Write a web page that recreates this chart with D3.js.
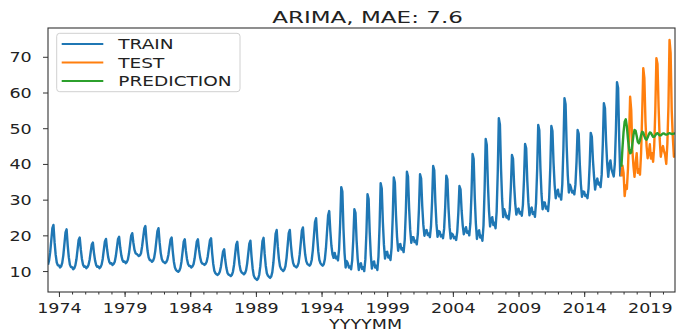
<!DOCTYPE html>
<html><head><meta charset="utf-8">
<script src="https://cdn.jsdelivr.net/npm/d3@7"></script>
<style>body{margin:0;background:#fff} svg{display:block}</style>
</head><body><svg id="c" width="677" height="331"></svg>
<script>
// ---- data (monthly) ----
const trainStart = [1973, 3];
const trainValues = [
  11.8,13.0,15.3,18.6,22.0,22.9,18.1,14.6,12.4,11.6,
  11.6,11.0,11.3,12.3,14.4,17.6,20.8,21.7,17.2,13.9,11.8,11.1,
  11.1,10.5,10.8,11.6,13.3,16.0,18.7,19.4,16.0,13.4,11.8,11.2,
  11.3,10.8,11.1,11.7,13.1,15.3,17.4,18.0,15.1,13.0,11.7,11.2,
  11.3,10.8,11.1,11.8,13.4,15.9,18.3,19.0,16.1,13.9,12.6,12.1,
  12.2,11.7,12.0,12.6,14.2,16.6,19.0,19.6,16.6,14.4,13.1,12.6,
  12.7,12.2,12.5,13.2,14.9,17.4,19.9,20.6,18.0,16.0,15.0,14.8,
  14.5,14.2,14.4,15.0,16.9,19.4,21.9,22.6,18.6,15.6,13.8,13.1,
  13.0,12.6,12.9,13.7,15.6,18.4,21.2,22.0,18.1,15.1,13.4,12.7,
  12.5,12.2,12.5,13.1,14.5,16.7,18.8,19.4,15.6,12.7,11.0,10.3,
  10.0,9.8,10.1,10.9,12.7,15.4,18.2,18.9,15.7,13.4,12.0,11.4,
  11.4,11.0,11.3,11.9,13.5,15.9,18.3,18.9,16.0,13.9,12.6,12.1,
  12.0,11.7,12.0,12.6,14.1,16.4,18.6,19.2,15.1,12.0,10.1,9.4,
  9.1,8.9,9.2,9.8,11.2,13.4,15.5,16.1,13.1,10.9,9.5,9.0,
  8.9,8.6,8.9,9.8,11.7,14.6,17.4,18.2,14.6,11.8,10.2,9.6,
  9.4,9.1,9.4,10.2,12.1,14.9,17.7,18.5,14.1,10.8,8.8,8.1,
  7.8,7.5,7.9,8.9,11.3,14.8,18.4,19.3,14.8,11.5,9.4,8.7,
  8.4,8.1,8.5,9.7,12.4,16.4,20.4,21.5,16.9,13.5,11.4,10.6,
  10.3,10.0,10.4,11.4,13.7,17.1,20.6,21.5,17.3,14.2,12.3,11.5,
  11.3,11.0,11.4,12.3,14.6,17.9,21.3,22.2,17.9,14.7,12.8,12.0,
  11.8,11.5,11.9,13.1,15.8,19.7,23.7,24.8,19.5,15.5,13.1,12.2,
  11.8,11.5,11.9,13.3,16.4,21.0,25.6,26.8,21.3,17.1,14.7,13.7,
  15.1,13.6,14.0,13.0,16.1,23.3,33.5,32.3,22.0,15.1,11.0,12.8,
  12.2,11.0,11.3,10.5,13.0,18.9,27.3,26.3,18.7,13.5,10.3,11.7,
  12.2,10.6,11.1,10.0,13.2,20.8,31.5,30.2,20.9,14.5,10.7,12.4,
  12.7,11.0,11.5,10.3,14.0,22.5,34.6,33.1,23.9,17.4,13.5,15.3,
  15.4,13.8,14.3,13.1,16.6,24.7,36.2,34.8,25.8,19.5,15.7,17.4,
  17.6,16.0,16.4,15.3,18.7,26.6,37.8,36.5,27.7,21.6,17.9,19.5,
  19.5,18.1,18.5,17.5,20.4,27.3,37.1,35.9,28.3,23.0,19.9,21.3,
  21.5,20.1,20.5,19.5,22.5,29.5,39.4,38.2,29.3,23.2,19.6,21.2,
  21.0,19.7,20.1,19.2,21.8,28.0,36.7,35.7,27.7,22.3,19.1,20.5,
  20.2,19.2,19.5,18.7,21.0,26.3,33.8,32.9,26.9,22.8,20.3,21.4,
  22.3,20.7,21.1,20.0,23.4,31.4,42.8,41.4,30.7,23.4,19.0,20.9,
  21.4,19.4,19.9,18.5,22.8,32.8,47.0,45.3,34.5,27.0,22.5,24.5,
  25.1,22.9,23.5,22.0,26.6,37.4,52.8,51.0,38.7,30.2,25.1,27.3,
  26.3,25.0,25.4,24.5,27.2,33.5,42.5,41.4,34.0,28.9,25.8,27.2,
  27.5,26.1,26.5,25.5,28.5,35.6,45.6,44.4,35.4,29.3,25.6,27.2,
  27.8,26.0,26.5,25.2,29.1,38.1,50.9,49.4,38.9,31.6,27.3,29.2,
  29.2,27.5,28.0,26.8,30.4,38.7,50.6,49.2,40.3,34.1,30.4,32.1,
  32.8,30.9,31.4,30.0,34.3,44.2,58.4,56.7,45.0,36.9,32.0,34.2,
  33.3,32.0,32.4,31.5,34.2,40.5,49.5,48.4,40.0,34.2,30.8,32.3,
  32.2,31.0,31.3,30.4,33.1,39.6,48.7,47.6,41.1,36.5,32.8,35.0,
  35.9,34.2,34.7,33.5,37.0,45.3,57.0,55.6,46.5,40.2,36.4,40.0,
  41.0,38.5,37.5,36.5,40.0,49.5,62.9,61.3,47.0,36.5
];
const testStart = [2016, 11];
const testValues = [
  36.5,39.5,
  37.5,31.0,34.0,33.0,38.5,47.5,58.8,55.0,44.0,39.5,36.4,40.3,
  43.0,37.5,38.5,37.0,43.0,54.0,66.8,64.0,52.0,45.0,41.6,43.0,
  45.5,41.5,43.0,40.6,45.0,55.0,69.6,68.0,56.0,47.0,42.0,44.0,
  45.0,43.5,42.5,40.0,45.5,56.0,74.7,71.0,55.0,47.5,42.0,43.0
];
const predictionValues = [
  39.2,44.5,
  49.0,51.8,52.5,50.5,47.0,44.2,43.0,43.2,45.5,48.0,49.5,49.3,
  47.8,46.2,45.8,46.6,48.0,49.0,48.8,47.8,47.0,46.8,47.4,48.2,
  48.8,48.7,48.1,47.6,47.6,48.0,48.5,48.6,48.3,48.0,48.0,48.3,
  48.5,48.5,48.3,48.2,48.3,48.5,48.6,48.5,48.4,48.4,48.5,48.6
];
const seriesNames = ["TRAIN", "TEST", "PREDICTION"];
const seriesColors = ["#1f77b4", "#ff7f0e", "#2ca02c"];
const xMajorTicks = [1974, 1979, 1984, 1989, 1994, 1999, 2004, 2009, 2014, 2019];
const yTicks = [10, 20, 30, 40, 50, 60, 70];
const titleText = "ARIMA, MAE: 7.6";
const xLabelText = "YYYYMM";

// ---- build ----
function toSeries(start, vals) {
  return vals.map((v, i) => ({ t: start[0] + (start[1] - 1 + i) / 12, v }));
}
const train = toSeries(trainStart, trainValues);
const test = toSeries(testStart, testValues);
const pred = toSeries(testStart, predictionValues);
const all = [train, test, pred];

const L = 48, R = 675, T = 28, B = 292;
const FONT = "DejaVu Sans";
const TXT = "#222";

const x = d3.scaleLinear().domain([train[0].t, test[test.length - 1].t]).range([L, R]);
const vals = all.flat().map(d => d.v);
const [mn, mx] = d3.extent(vals);
const pad = (mx - mn) * 0.05;
const y = d3.scaleLinear().domain([mn - pad, mx + pad]).range([B, T]);

const svg = d3.select("#c");
svg.append("defs").append("clipPath").attr("id", "clip")
  .append("rect").attr("x", L).attr("y", T).attr("width", R - L).attr("height", B - T);

const line = d3.line().x(d => x(d.t)).y(d => y(d.v));
const plot = svg.append("g").attr("clip-path", "url(#clip)");
plot.selectAll("path.series").data(all).join("path")
  .attr("class", "series")
  .attr("d", line)
  .attr("fill", "none")
  .attr("stroke", (d, i) => seriesColors[i])
  .attr("stroke-width", 2.4)
  .attr("stroke-linejoin", "round");

// axes
const TSX = 1.28, TFS = 13.7;
const minorYears = d3.range(1974, 2021);
const gxMinor = svg.append("g").attr("transform", `translate(0,${B})`)
  .call(d3.axisBottom(x).tickValues(minorYears).tickSize(2.5).tickFormat(""));
gxMinor.select(".domain").remove();
gxMinor.selectAll("line").attr("stroke", "#333");

const gx = svg.append("g").attr("transform", `translate(0,${B})`)
  .call(d3.axisBottom(x).tickValues(xMajorTicks).tickFormat(d3.format("d")).tickSize(5));
gx.select(".domain").remove();
gx.selectAll("line").attr("stroke", "#333");
gx.selectAll("text")
  .attr("y", 21.3).attr("dy", 0)
  .attr("transform", `scale(${TSX},1)`)
  .attr("font-family", FONT).attr("font-size", TFS).attr("fill", TXT);

const gy = svg.append("g").attr("transform", `translate(${L},0)`)
  .call(d3.axisLeft(y).tickValues(yTicks).tickSize(5));
gy.select(".domain").remove();
gy.selectAll("line").attr("stroke", "#333");
gy.selectAll("text")
  .attr("x", -16.3 / TSX).attr("dy", "0.36em")
  .attr("transform", `scale(${TSX},1)`)
  .attr("font-family", FONT).attr("font-size", TFS).attr("fill", TXT);

// spines
svg.append("rect").attr("x", L).attr("y", T).attr("width", R - L).attr("height", B - T)
  .attr("fill", "none").attr("stroke", "#333").attr("stroke-width", 1.1);

// title
svg.append("text")
  .attr("transform", `translate(367.5,23.3) scale(1.44,1)`)
  .attr("text-anchor", "middle")
  .attr("font-family", FONT).attr("font-size", 16).attr("fill", TXT)
  .text(titleText);

// x label
svg.append("text")
  .attr("transform", `translate(365.5,328.5) scale(${TSX},1)`)
  .attr("text-anchor", "middle")
  .attr("font-family", FONT).attr("font-size", TFS).attr("fill", TXT)
  .text(xLabelText);

// legend
const lg = svg.append("g");
lg.append("rect").attr("x", 56.7).attr("y", 33.3).attr("width", 183.3).attr("height", 58.4)
  .attr("rx", 3).attr("fill", "#fff").attr("fill-opacity", 0.8)
  .attr("stroke", "#d0d0d0").attr("stroke-width", 1);
const rowsY = [44, 62.5, 81];
const items = lg.selectAll("g.item").data(seriesNames).join("g").attr("class", "item");
items.append("line")
  .attr("x1", 61.7).attr("x2", 103.3)
  .attr("y1", (d, i) => rowsY[i]).attr("y2", (d, i) => rowsY[i])
  .attr("stroke", (d, i) => seriesColors[i]).attr("stroke-width", 2.2);
items.append("text")
  .attr("transform", (d, i) => `translate(118.3,${rowsY[i] + 5}) scale(1.35,1)`)
  .attr("font-family", FONT).attr("font-size", TFS).attr("fill", TXT)
  .text(d => d);
</script>
</body></html>
